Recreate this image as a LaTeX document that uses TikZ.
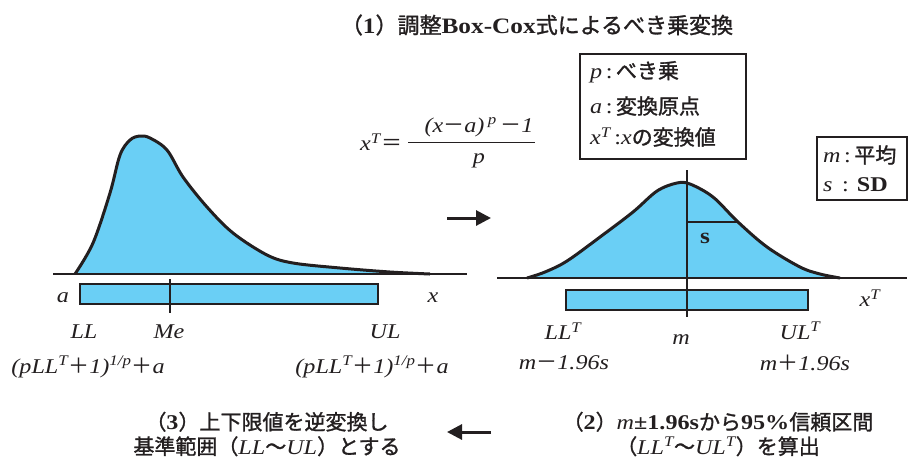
\documentclass[tikz,border=0pt]{standalone}
\usepackage{fontspec}
\setmainfont{Liberation Serif}[FakeStretch=1.15]
\newfontfamily\jp{Noto Sans CJK JP}[FakeBold=1.3]
\newfontfamily\jpr{Noto Sans CJK JP}
\usetikzlibrary{arrows.meta}
\definecolor{fillblue}{RGB}{106,207,245}
\definecolor{ink}{RGB}{35,31,32}
\newcommand\lat[1]{{\rmfamily\upshape\bfseries #1}}
\newcommand\sups[1]{\textsuperscript{\itshape #1}}
\newcommand\fplus{{\jpr ＋}}
\newcommand\fminus{{\jpr －}}
\begin{document}
\begin{tikzpicture}[x=1pt,y=-1pt,
  txt/.style={inner sep=0pt, font=\fontsize{21}{24}\selectfont\itshape, text=ink},
  jtxt/.style={inner sep=0pt, font=\fontsize{21}{24.5}\selectfont\jp, text=ink, align=center},
  legtxt/.style={inner sep=0pt, anchor=west, font=\fontsize{21}{24}\selectfont, text=ink},
  curve/.style={line width=3pt, draw=ink, fill=fillblue, line join=round},
  base/.style={line width=2.2pt, draw=ink},
  bar/.style={fill=fillblue, draw=ink, line width=2.7pt},
  tick/.style={line width=2.7pt, draw=ink},
  legend/.style={draw=ink, line width=2pt, fill=white},
  bigarrow/.style={line width=3pt, draw=ink, -{Triangle[length=15pt,width=15pt]}}
]
\useasboundingbox (0,0) rectangle (909,459);

% title
\node[jtxt, font=\fontsize{22}{26}\selectfont\jp] (title) at (537,25)
  {（\lat{1}）調整\lat{Box-Cox}式によるべき乗変換};

% left distribution
\path[curve] plot[smooth,tension=0.55] coordinates {(75,274) (93,243) (110,193) (120,155) (130,140) (140,136) (150,138) (167,150) (183,177) (207,207) (233,233) (267,255) (293,263) (340,268) (390,272) (430,274)};
\coordinate (lb1) at (53,274);
\coordinate (lb2) at (467,274);
\draw[base] (lb1) -- (lb2);
\draw[bar] (80,284) rectangle (378,304);
\coordinate (me1) at (170,279);
\coordinate (me2) at (170,313);
\draw[tick] (me1) -- (me2);

\node[txt] (la) at (63,298) {a};
\node[txt] (lx) at (433,298) {x};
\node[txt] (LL) at (84,332) {LL};
\node[txt] (Me) at (169,332) {Me};
\node[txt] (UL) at (385,332) {UL};
\node[txt] (inv1) at (88,367) {(pLL\sups{T}\fplus 1)\sups{1/p}\fplus a};
\node[txt] (inv2) at (372,367) {(pLL\sups{T}\fplus 1)\sups{1/p}\fplus a};

% formula
\node[txt, anchor=east] (xT) at (403,142) {x\sups{T}\kern1pt{\jpr ＝}};
\coordinate (fr1) at (408,142);
\coordinate (fr2) at (535,142);
\draw[line width=1pt, draw=ink] (fr1) -- (fr2);
\node[txt] (num) at (479,127) {(x\fminus a)\,\sups{p}\,\fminus 1};
\node[txt] (den) at (479,161) {p};

% arrow right
\coordinate (ra1) at (447,218);
\coordinate (ra2) at (491,218);
\draw[bigarrow] (ra1) -- (ra2);

% legend 1
\draw[legend] (580,54) rectangle (746,159);
\node[legtxt] (lg1) at (590,72) {\textit{p}\,:\,{\jp べき乗}};
\node[legtxt] (lg2) at (590,106) {\textit{a}\,:\,{\jp 変換原点}};
\node[legtxt] (lg3) at (590,137) {\textit{x}\sups{T}\,:\textit{x}{\jp の変換値}};

% legend 2
\draw[legend] (817,137) rectangle (907,200);
\node[legtxt] (lg4) at (823,155) {\textit{m}\,:\,{\jp 平均}};
\node[legtxt] (lg5) at (823,185) {\textit{s}\, : \textbf{SD}};

% right distribution
\path[curve] plot[smooth,tension=0.55] coordinates {(527,278) (545,272) (567,261) (600,237) (633,212) (657,191) (677,183) (690,184) (713,197) (738,222) (767,247) (800,267) (820,274) (840,278)};
\coordinate (rb1) at (497,278);
\coordinate (rb2) at (907,278);
\draw[base] (rb1) -- (rb2);
\draw[bar] (566,290) rectangle (808,310);
\coordinate (mv1) at (687,170);
\coordinate (mv2) at (687,317);
\draw[tick] (mv1) -- (mv2);
\coordinate (s1) at (687,222);
\coordinate (s2) at (738,222);
\draw[line width=2pt, draw=ink] (s1) -- (s2);
\node[txt, font=\fontsize{22}{24}\selectfont\bfseries] (sl) at (705,238) {s};

\node[txt] (rx) at (870,298) {x\sups{T}};
\node[txt] (LLT) at (563,331) {LL\sups{T}};
\node[txt] (m) at (681,340) {m};
\node[txt] (ULT) at (800,331) {UL\sups{T}};
\node[txt] (lo) at (564,363) {m\fminus 1.96s};
\node[txt] (hi) at (805,363) {m\fplus 1.96s};

% bottom texts
\node[jtxt] (step3) at (267,434) {（\lat{3}）上下限値を逆変換し\\基準範囲（{\rmfamily\mdseries\itshape LL}〜{\rmfamily\mdseries\itshape UL}）とする};
\node[jtxt] (step2) at (718,434) {（\lat{2}）{\rmfamily\mdseries\itshape m}\lat{±1.96s}から\lat{95\%}信頼区間\\（{\rmfamily\mdseries\itshape LL\sups{T}}〜{\rmfamily\mdseries\itshape UL\sups{T}}）を算出};

\coordinate (la1) at (491,432);
\coordinate (la2) at (447,432);
\draw[bigarrow] (la1) -- (la2);
\end{tikzpicture}
\end{document}
